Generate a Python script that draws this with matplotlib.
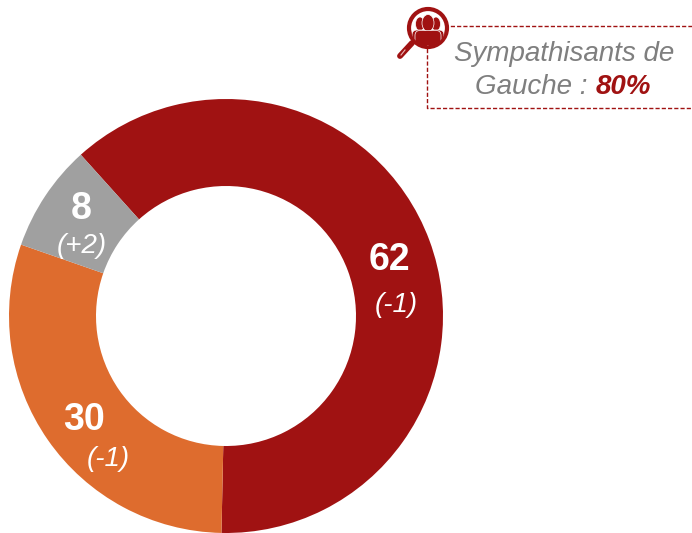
"""Donut chart with the left-leaning sympathisers callout."""

import matplotlib

matplotlib.use("Agg")
import matplotlib.pyplot as plt
from matplotlib import patches

values = [62, 30, 8]
deltas = ["(-1)", "(-1)", "(+2)"]
labels = ["62", "30", "8"]
colors = ["#A01212", "#DE6C2E", "#A0A0A0"]

callout_line1 = "Sympathisants de"
callout_line2 = "Gauche :"
callout_value = "80%"

W, H = 692, 533
RED = "#A01212"
GREY = "#7F7F7F"

plt.rcParams["font.family"] = ["Liberation Sans", "DejaVu Sans"]


def py(y):
    """Pixel row (from the top) to axes y."""
    return H - y


fig = plt.figure(figsize=(W / 100, H / 100), dpi=100)
ax = fig.add_axes([0, 0, 1, 1])
ax.pie(
    values,
    colors=colors,
    startangle=132,
    counterclock=False,
    radius=217,
    center=(226, py(316)),
    wedgeprops={"width": 87, "linewidth": 0},
)
ax.set_xlim(0, W)
ax.set_ylim(0, H)
ax.set_aspect("equal")
ax.axis("off")

# value labels
label_pos = [(389, 260), (84, 420), (81, 209)]
delta_pos = [(396, 305), (108, 459), (82, 246)]
for txt, (x, y) in zip(labels, label_pos):
    ax.text(x, py(y), txt, color="white", fontsize=27, fontweight="bold",
            ha="center", va="center")
for txt, (x, y) in zip(deltas, delta_pos):
    ax.text(x, py(y), txt, color="white", fontsize=20, fontstyle="italic",
            ha="center", va="center")

# dashed callout frame
ax.plot([692, 427, 427, 692], [py(26), py(26), py(108), py(108)],
        color=RED, lw=1, ls=(0, (3, 1.5)), zorder=2)

ax.text(564, py(54), callout_line1, color=GREY, fontsize=20, fontstyle="italic",
        ha="center", va="center")
ax.text(475, py(87), callout_line2, color=GREY, fontsize=20, fontstyle="italic",
        ha="left", va="center")
ax.text(596, py(87), callout_value, color=RED, fontsize=20, fontstyle="italic",
        fontweight="bold", ha="left", va="center")

# magnifier icon with people
ax.plot([412, 400], [py(43), py(56)], color=RED, lw=4.2, solid_capstyle="round", zorder=3)
ax.plot([405, 401], [py(50), py(55)], color="#E9B8B8", lw=0.8, zorder=4)
ring = patches.Circle((428, py(28)), 19, fc="white", ec=RED, lw=3, zorder=3)
ax.add_patch(ring)
clip = patches.Circle((428, py(28)), 17.5, transform=ax.transData)
for cx, w, h, y0, bw in [(420, 9, 14, 24, 16), (436, 9, 14, 24, 16), (428, 12, 17, 23, 26)]:
    head = patches.Ellipse((cx, py(y0)), w, h, fc=RED, ec="white", lw=0.5, zorder=4)
    body = patches.FancyBboxPatch((cx - bw / 2, py(50)), bw, 50 - (y0 + h / 2 - 1),
                                  boxstyle="round,pad=0,rounding_size=5",
                                  fc=RED, ec="white", lw=0.5, zorder=4)
    ax.add_patch(head)
    ax.add_patch(body)
    body.set_clip_path(clip)

fig.savefig("out.png", dpi=100)
